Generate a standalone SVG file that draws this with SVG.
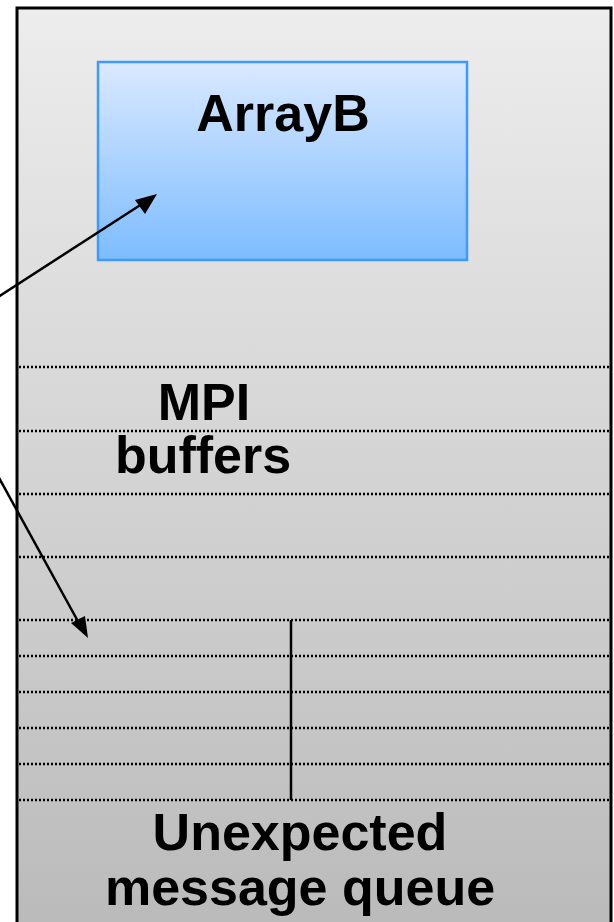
<svg xmlns="http://www.w3.org/2000/svg" width="614" height="922" viewBox="0 0 614 922">
<style>
.lbl{font-family:"Liberation Sans",Arial,sans-serif;font-weight:bold;font-size:52px;fill:#000;text-anchor:middle}
.dot{stroke:#000;stroke-width:2.5;stroke-dasharray:2 2;fill:none}
.conn{stroke:#000;stroke-width:2.5;fill:none}
.head{fill:#000}
</style>
<defs>
<linearGradient id="gOuter" x1="0" y1="0" x2="0" y2="1">
<stop offset="0" stop-color="#ededed"/>
<stop offset="1" stop-color="#bababa"/>
</linearGradient>
<linearGradient id="gBlue" x1="0" y1="0" x2="0" y2="1">
<stop offset="0" stop-color="#dae9ff"/>
<stop offset="1" stop-color="#7dbcff"/>
</linearGradient>
</defs>
<g id="memory">
<rect x="17" y="8" width="594" height="930" fill="url(#gOuter)" stroke="#000" stroke-width="3"/>
</g>
<g id="arrayB">
<rect x="98" y="62" width="369" height="198" fill="url(#gBlue)" stroke="#3d9bff" stroke-width="2.5"/>
<text class="lbl" x="283" y="131">ArrayB</text>
</g>
<g id="buffers">
<line class="dot" x1="19" y1="367" x2="610" y2="367"/>
<line class="dot" x1="19" y1="431" x2="610" y2="431"/>
<line class="dot" x1="19" y1="494" x2="610" y2="494"/>
<line class="dot" x1="19" y1="557" x2="610" y2="557"/>
<line class="dot" x1="19" y1="620" x2="610" y2="620"/>
<line class="dot" x1="19" y1="656" x2="610" y2="656"/>
<line class="dot" x1="19" y1="692" x2="610" y2="692"/>
<line class="dot" x1="19" y1="728" x2="610" y2="728"/>
<line class="dot" x1="19" y1="764" x2="610" y2="764"/>
<line class="dot" x1="19" y1="800" x2="610" y2="800"/>
<line class="conn" x1="291" y1="620" x2="291" y2="800"/>
<text class="lbl" x="204" y="420">MPI</text>
<text class="lbl" x="203" y="473">buffers</text>
</g>
<g id="queue">
<text class="lbl" x="300" y="850">Unexpected</text>
<text class="lbl" x="300" y="905">message queue</text>
</g>
<g id="connectors">
<line class="conn" x1="-2" y1="297" x2="145" y2="202"/>
<path class="head" d="M157,194 L135,200 L145,214 Z"/>
<line class="conn" x1="-2" y1="476" x2="80" y2="625"/>
<path class="head" d="M88,638 L71,623 L85,616 Z"/>
</g>
</svg>
